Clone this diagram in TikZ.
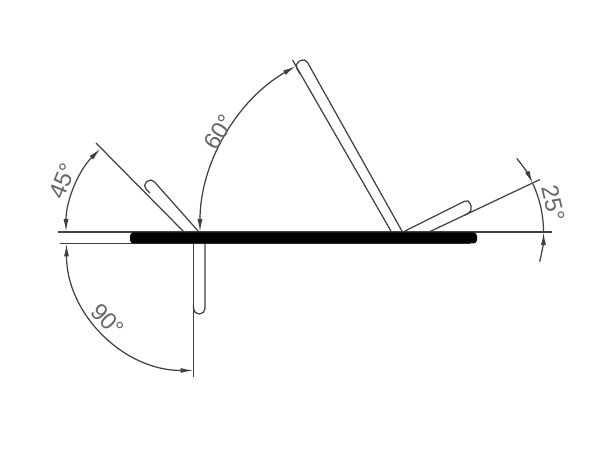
\documentclass[tikz,border=0pt]{standalone}
\usepackage{fontspec}
\setmainfont{Liberation Sans}
\usetikzlibrary{calc,arrows.meta}
\begin{document}
\begin{tikzpicture}
                      \tikzstyle{outline}=[line width=0.7pt,draw=black!75]
                      \tikzstyle{dim}=[line width=0.7pt,draw=black!75,{Latex[length=0.26cm,width=0.1cm]}-{Latex[length=0.26cm,width=0.1cm]}]
                      \tikzstyle{dimtip}=[line width=0.7pt,draw=black!75,-{Latex[length=0.26cm,width=0.1cm]}]
                      \tikzstyle{angletext}=[text=black!60,font=\fontsize{13.5}{15}\selectfont,inner sep=0pt]
                      \useasboundingbox (0,0) rectangle (12.2,9);
                      \coordinate (left) at (1.16,4.36);
                      \coordinate (right) at (11.04,4.36);
                      \coordinate (lowleft) at (1.2,4.13);
                      \coordinate (lowright) at (9.4,4.13);
                      \coordinate (hingea) at (3.68,4.36);
                      \coordinate (hingeb) at (7.83,4.36);
                      \coordinate (hingec) at (8.58,4.36);
                      \coordinate (hinged) at (3.87,4.13);
                      % base plate
                      \draw[outline] (left) -- (right);
                      \draw[outline] (lowleft) -- (lowright);
                      \fill[rounded corners=0.07cm] (2.6,4.13) rectangle (9.54,4.35);
                      % 45 degree flap
                      \draw[outline] (hingea) -- (1.92,6.14);
                      \draw[outline,rounded corners=0.1cm] (3,5.14) -- (2.85,5.29) -- (3.02,5.44) -- (3.98,4.36);
                      % 60 degree flap
                      \draw[outline] (hingeb) -- (5.85,7.8);
                      \draw[outline,rounded corners=0.1cm] (6,7.52) -- (5.89,7.72) -- (6.1,7.84) -- (8.05,4.36);
                      % 25 degree flap
                      \draw[outline] (hingec) -- (10.8,5.41);
                      \draw[outline,rounded corners=0.1cm] (8.06,4.36) -- (9.38,5.02) -- (9.45,4.77) -- (9.3,4.7);
                      % 90 degree flap
                      \draw[outline] (hinged) -- (3.87,1.46);
                      \draw[outline,rounded corners=0.11cm] (3.87,2.9) -- (3.87,2.72) -- (4.1,2.72) -- (4.1,4.13);
                      % angles
                      \draw[dim] (1.32,4.36) arc [start angle=180,end angle=135,radius=2.36];
                      \draw[dim] (1.33,4.13) arc [start angle=180,end angle=270,radius=2.54];
                      \draw[dim] (4,4.36) arc [start angle=180,end angle=120,radius=3.83];
                      \draw[dimtip] ($(hingec)+(40:2.29)$) arc [start angle=40,end angle=25,radius=2.29];
                      \draw[outline] ($(hingec)+(25:2.29)$) arc [start angle=25,end angle=0,radius=2.29];
                      \draw[dimtip] ($(hingec)+(-15:2.29)$) arc [start angle=-15,end angle=0,radius=2.29];
                      \node[angletext,rotate=68] (labela) at (1.26,5.38) {45°};
                      \node[angletext,rotate=58] (labelb) at (4.38,6.36) {60°};
                      \node[angletext,rotate=-45] (labelc) at (2.15,2.6) {90°};
                      \node[angletext,rotate=-77] (labeld) at (11.07,4.94) {25°};
\end{tikzpicture}
\end{document}
